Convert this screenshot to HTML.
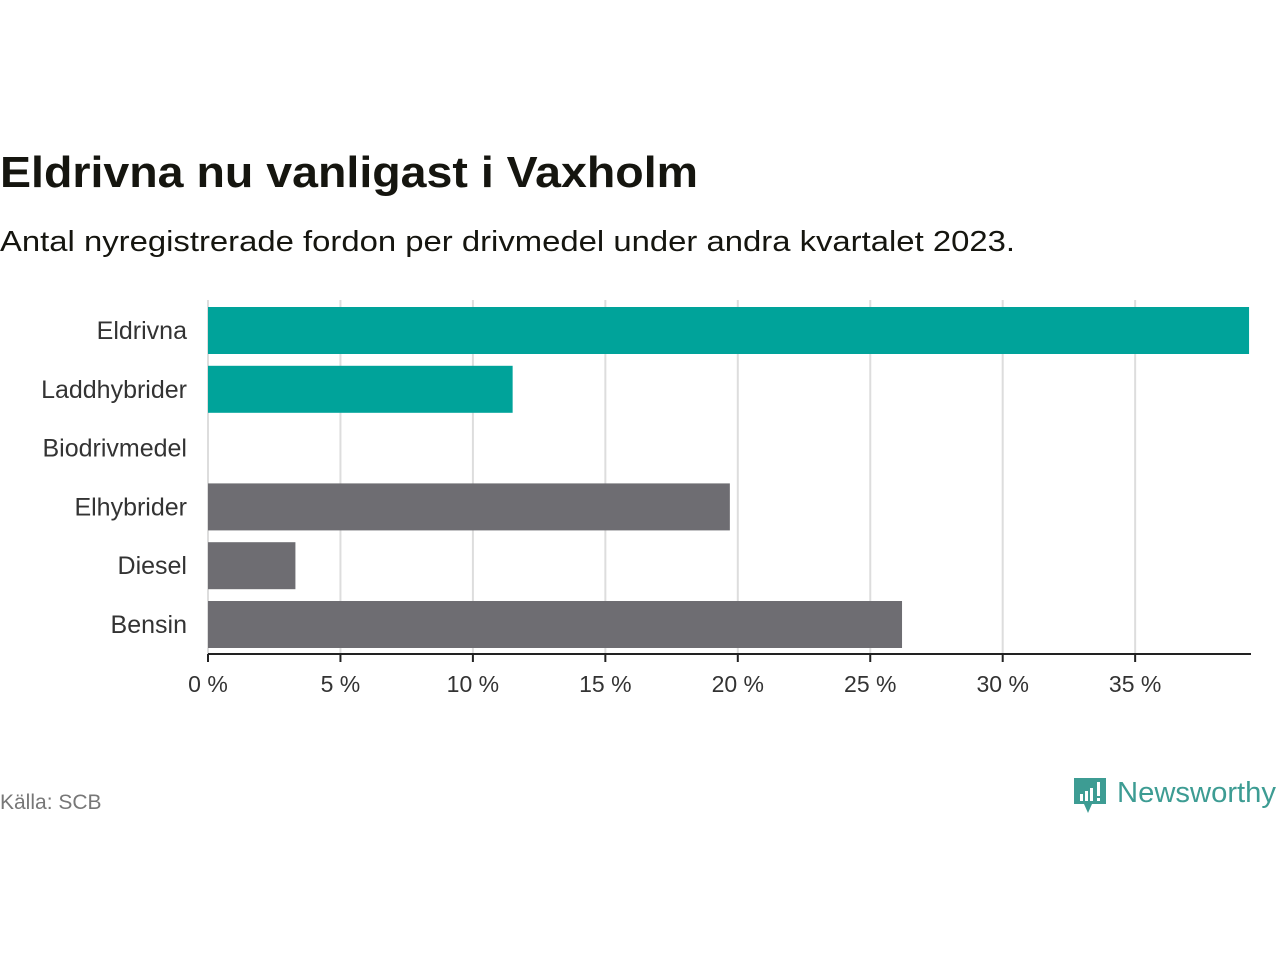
<!DOCTYPE html>
<html><head><meta charset="utf-8"><style>
body{margin:0;background:#fff;width:1280px;height:960px;overflow:hidden;font-family:"Liberation Sans",sans-serif}
</style></head><body>
<svg width="1280" height="960">
<text x="0" y="187" font-size="44" font-weight="bold" fill="#15150f" textLength="698" lengthAdjust="spacingAndGlyphs">Eldrivna nu vanligast i Vaxholm</text>
<text x="0" y="251" font-size="29" fill="#15150f" textLength="1015" lengthAdjust="spacingAndGlyphs">Antal nyregistrerade fordon per drivmedel under andra kvartalet 2023.</text>
<g id="grid"></g><g id="bars"></g><g id="ylabels"></g><g id="xticks"></g>
<line x1="208" y1="654" x2="1251" y2="654" stroke="#222" stroke-width="2"/>
<text x="0" y="809" font-size="21" fill="#777">Källa: SCB</text>
<g>
<path d="M1074 778h32v26h-14l-4 9-4-9h-10z" fill="#3d9c93"/>
<rect x="1080" y="794" width="3" height="7" fill="#fff"/><rect x="1085" y="791" width="3" height="10" fill="#fff"/><rect x="1090" y="788" width="3" height="13" fill="#fff"/><rect x="1097" y="782" width="3" height="14" fill="#fff"/><rect x="1097" y="798" width="3" height="3" fill="#fff"/>
<text x="1117" y="802" font-size="29" fill="#3d9c93" textLength="159" lengthAdjust="spacingAndGlyphs">Newsworthy</text>
</g>
</svg>
<script>
const categories=["Eldrivna","Laddhybrider","Biodrivmedel","Elhybrider","Diesel","Bensin"];
const values=[39.3,11.5,0,19.7,3.3,26.2];
const colors=["#00a39a","#00a39a","#00a39a","#6e6d72","#6e6d72","#6e6d72"];
const ticks=[0,5,10,15,20,25,30,35];
const tickLabels=["0 %","5 %","10 %","15 %","20 %","25 %","30 %","35 %"];
const NS="http://www.w3.org/2000/svg";
const x=v=>208+v*26.49;
const y=i=>307+i*58.8;
function mk(t,a,p){const e=document.createElementNS(NS,t);for(const k in a)e.setAttribute(k,a[k]);p.appendChild(e);return e;}
const g=document.getElementById('grid'),b=document.getElementById('bars'),yl=document.getElementById('ylabels'),xt=document.getElementById('xticks');
ticks.forEach((t,i)=>{
 const l=mk('line',{x1:x(t),x2:x(t),y1:300,y2:654,stroke:'#ddd','stroke-width':2},g);
 
 
 const tk=mk('line',{x1:x(t),x2:x(t),y1:654,y2:662,stroke:'#222','stroke-width':2},xt);
 
 
 const tx=mk('text',{x:x(t),y:692,'text-anchor':'middle','font-size':23,fill:'#333'},xt);
 tx.textContent=tickLabels[i];
 
 
});
categories.forEach((c,i)=>{
 const r=mk('rect',{x:208,y:y(i),width:Math.max(0,x(values[i])-208),height:47,fill:colors[i]},b);
 
 
 const t=mk('text',{x:187,y:y(i)+32,'text-anchor':'end','font-size':25,fill:'#333'},yl);
 t.textContent=c;
 
 
});
</script>
</body></html>
